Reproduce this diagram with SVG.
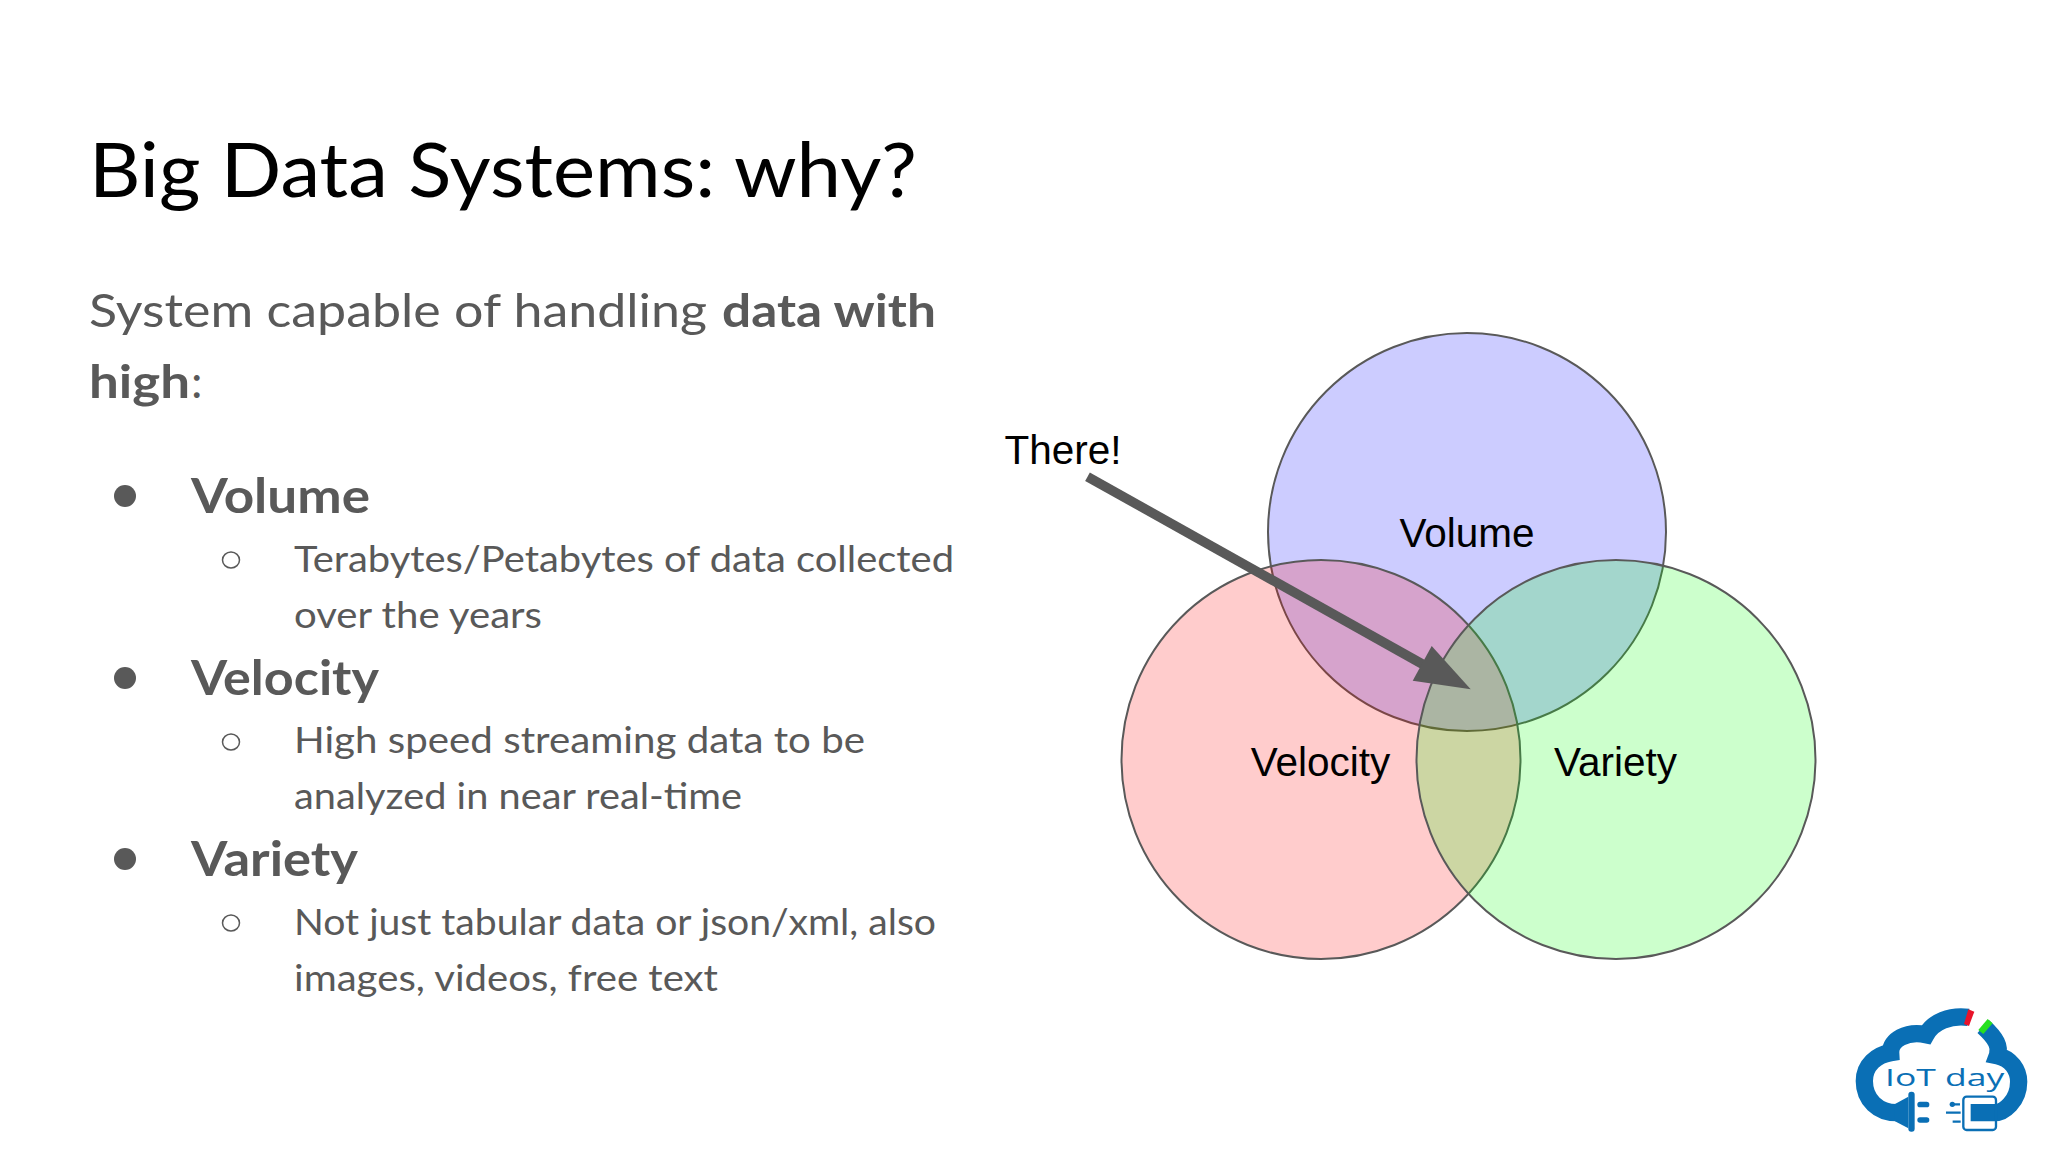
<svg xmlns="http://www.w3.org/2000/svg" width="2048" height="1152" viewBox="0 0 2048 1152">
<style>
.t{font-family:"Lato","Open Sans","Liberation Sans",sans-serif;fill:#595959}
.b{font-weight:700}
.h{font-size:75px;fill:#000}
.p{font-size:46px}
.m{font-size:48px;font-weight:700}
.s{font-size:37px}
.a{font-family:"Liberation Sans",Arial,sans-serif;font-size:40.5px;fill:#000;text-anchor:middle}
.c{stroke:#595959;stroke-width:2}
.dot{fill:#595959}
.ring{fill:none;stroke:#595959;stroke-width:1.5}
.lb{fill:none;stroke:#0a6fb5;stroke-linecap:butt}
.lf{fill:#0a6fb5}
</style>
<rect width="2048" height="1152" fill="#fff"/>
<g id="title"><text class="t h" x="89" y="197" textLength="828" lengthAdjust="spacingAndGlyphs">Big Data Systems: why?</text></g>
<g id="intro">
<text class="t p" x="89" y="326.5" textLength="618" lengthAdjust="spacingAndGlyphs">System capable of handling</text>
<text class="t p b" x="722" y="326.5" textLength="214" lengthAdjust="spacingAndGlyphs">data with</text>
<text class="t p b" x="89" y="397.5" textLength="101" lengthAdjust="spacingAndGlyphs">high</text>
<text class="t p" x="191" y="397.5">:</text>
</g>
<g id="list">
<circle class="dot" cx="125" cy="496" r="11"/>
<text class="t m" x="191" y="513" textLength="179" lengthAdjust="spacingAndGlyphs">Volume</text>
<ellipse class="ring" cx="231" cy="560" rx="8.5" ry="8"/>
<text class="t s" x="294" y="572" textLength="660" lengthAdjust="spacingAndGlyphs">Terabytes/Petabytes of data collected</text>
<text class="t s" x="294" y="628" textLength="248" lengthAdjust="spacingAndGlyphs">over the years</text>
<circle class="dot" cx="125" cy="678" r="11"/>
<text class="t m" x="191" y="695" textLength="188" lengthAdjust="spacingAndGlyphs">Velocity</text>
<ellipse class="ring" cx="231" cy="742" rx="8.5" ry="8"/>
<text class="t s" x="294" y="753" textLength="571" lengthAdjust="spacingAndGlyphs">High speed streaming data to be</text>
<text class="t s" x="294" y="809" textLength="448" lengthAdjust="spacingAndGlyphs">analyzed in near real-time</text>
<circle class="dot" cx="125" cy="859" r="11"/>
<text class="t m" x="191" y="876" textLength="167" lengthAdjust="spacingAndGlyphs">Variety</text>
<ellipse class="ring" cx="231" cy="923" rx="8.5" ry="8"/>
<text class="t s" x="294" y="935" textLength="642" lengthAdjust="spacingAndGlyphs">Not just tabular data or json/xml, also</text>
<text class="t s" x="294" y="991" textLength="424" lengthAdjust="spacingAndGlyphs">images, videos, free text</text>
</g>
<g id="volume"><circle class="c" cx="1467" cy="532" r="199" fill="#00f" fill-opacity=".2"/><text class="a" x="1467" y="547">Volume</text></g>
<g id="velocity"><circle class="c" cx="1321" cy="759.5" r="199.5" fill="#f00" fill-opacity=".2"/><text class="a" x="1320.5" y="776">Velocity</text></g>
<g id="variety"><circle class="c" cx="1616" cy="759.5" r="199.5" fill="#0f0" fill-opacity=".2"/><text class="a" x="1615.5" y="776">Variety</text></g>
<g id="there"><text class="a" x="1063" y="464">There!</text></g>
<g id="connectors">
<path d="M1087.5 476.7L1424 665" fill="none" stroke="#595959" stroke-width="9.6"/>
<polygon points="1470.7,689.3 1412.7,680.7 1431.7,646" fill="#595959"/>
</g>
<g id="logo" transform="translate(1840 1000) scale(.3333)">
<path class="lb" stroke-width="52" d="M170 338C115 338 73 300 73 243C73 195 110 165 152 158C150 120 200 92 258 104C280 65 330 45 385 52"/>
<polygon points="385,28 403,35 387,78 372,72" fill="#e8132a"/>
<path class="lb" stroke-width="52" d="M430 80C468 115 482 140 472 167C512 175 536 210 536 245C536 305 490 338 465 338L392 338"/>
<polygon points="443,57 458,70 430,102 415,90" fill="#27e020"/>
<rect x="370" y="290" width="98" height="100" rx="10" fill="none" stroke="#0a6fb5" stroke-width="7"/>
<polygon points="165,312 205,290 205,385 165,364" class="lf"/>
<rect x="205" y="275" width="19" height="120" rx="9" class="lf"/>
<rect x="232" y="305" width="36" height="17" rx="8" class="lf"/>
<rect x="232" y="352" width="36" height="16" rx="8" class="lf"/>
<path class="lb" stroke-width="7" d="M337 313H360M318 338H362M338 365H362"/>
<circle class="lf" cx="337" cy="313" r="8"/>
<text x="135" y="258" textLength="358" lengthAdjust="spacingAndGlyphs" style="font-family:'Open Sans','Liberation Sans',sans-serif;font-size:72px;font-weight:500;fill:#0a6fb5">IoT day</text>
</g>
</svg>
